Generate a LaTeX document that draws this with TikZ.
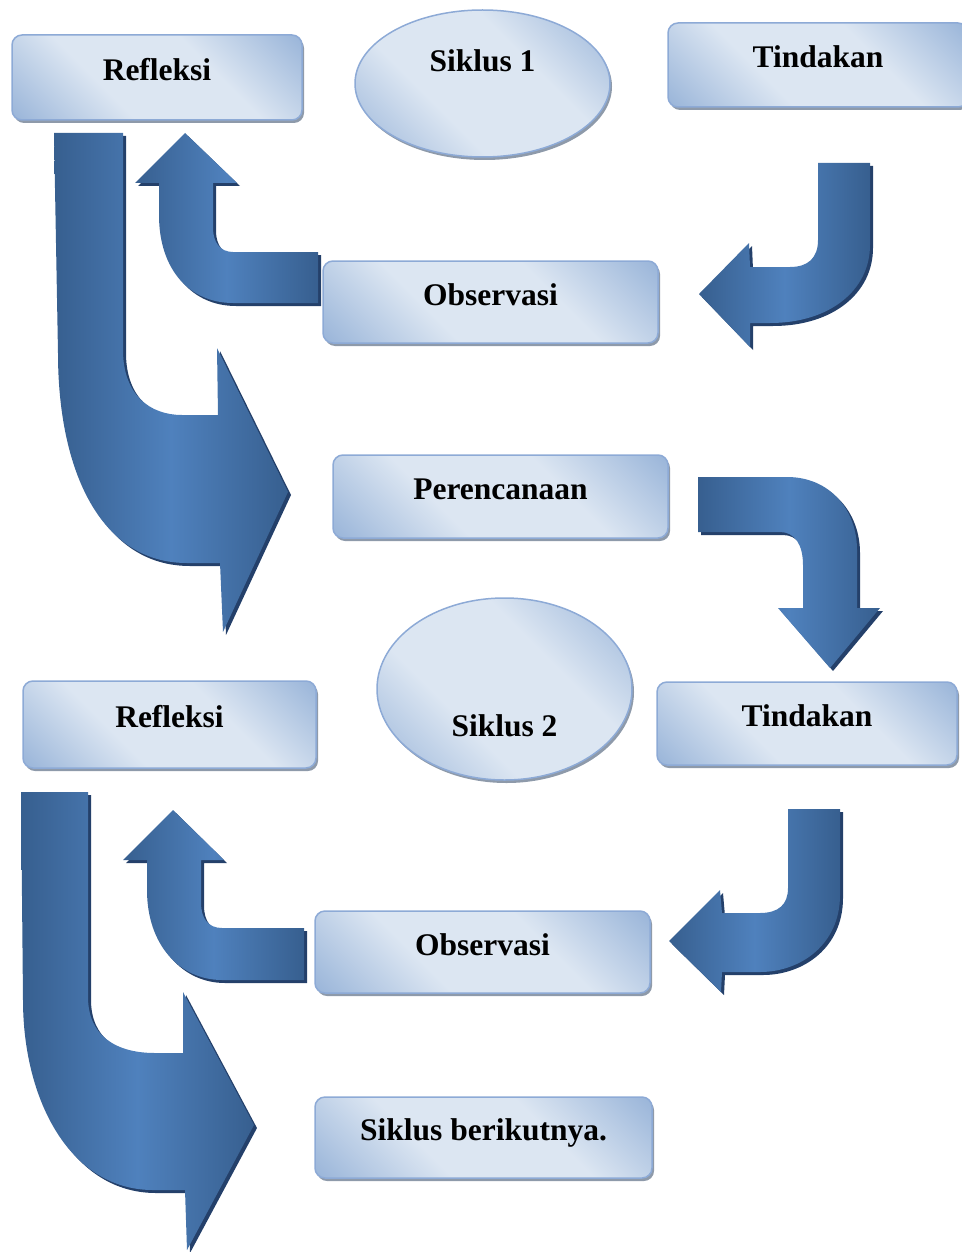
\documentclass[tikz,border=0pt]{standalone}
\usepackage{fontspec}
\setmainfont{Liberation Serif}
\usetikzlibrary{shapes.geometric,shadows}
\definecolor{boxlight}{HTML}{DCE6F2}
\definecolor{boxdark}{HTML}{97B3D8}
\definecolor{boxline}{HTML}{8DAAD6}
\definecolor{boxshadow}{HTML}{8E9AAA}
\definecolor{arrowlight}{HTML}{4F81BD}
\definecolor{arrowdark}{HTML}{375F8F}
\definecolor{arrowshadow}{HTML}{24406A}
\pgfdeclareverticalshading{boxshade}{100bp}{color(0bp)=(boxdark); color(14bp)=(boxdark);
  color(38bp)=(boxlight); color(62bp)=(boxlight); color(86bp)=(boxdark); color(100bp)=(boxdark)}
\tikzstyle{box}=[rectangle,rounded corners=10pt,draw=boxline,line width=1.5pt,
  shading=boxshade,shading angle=-45,
  drop shadow={shadow xshift=2pt,shadow yshift=-3pt,fill=boxshadow,opacity=1},
  font=\fontsize{31.5}{36}\selectfont\bfseries,text height=22pt,text depth=16pt]
\tikzstyle{oval}=[box,ellipse,minimum width=255pt]
\tikzstyle{blockarrow}=[left color=arrowdark,right color=arrowdark,middle color=arrowlight,
  drop shadow={shadow xshift=3pt,shadow yshift=-3pt,fill=arrowshadow,opacity=1}]
\begin{document}
\begin{tikzpicture}[x=1pt,y=-1pt]
    \useasboundingbox (0,0) rectangle (961,1252);
    % siklus 1
    \node[box,minimum width=290pt,minimum height=85pt](refl1) at (157,77.5) {Refleksi};
    \node[oval,minimum height=147pt,text depth=46pt](sik1) at (482.5,83.5) {Siklus 1};
    \node[box,minimum width=300pt,minimum height=84pt](tind1) at (818,65) {Tindakan};
    \node[box,minimum width=335pt,minimum height=82pt](obs1) at (490.5,302) {Observasi};
    \node[box,minimum width=335pt,minimum height=83pt](ren) at (500.5,496.5) {Perencanaan};
    % siklus 2
    \node[box,minimum width=293pt,minimum height=87pt](refl2) at (169.5,724.5) {Refleksi};
    \node[oval,minimum height=182pt,text height=94pt,text depth=0pt](sik2) at (504.5,689) {Siklus 2};
    \node[box,minimum width=300pt,minimum height=83pt](tind2) at (807,723.5) {Tindakan};
    \node[box,minimum width=335pt,minimum height=82pt](obs2) at (482.5,952) {Observasi};
    \node[box,minimum width=337pt,minimum height=81pt](next) at (483.5,1137.5) {Siklus berikutnya.};
    % arrows
    \path[blockarrow] (818,163) -- (870,163) -- (870,245) .. controls (870,290) and (830,323) .. (770,323)
        -- (750,323) -- (750,347) -- (699,294) -- (749,243) -- (750,267) -- (790,267)
        .. controls (808,267) and (818,258) .. (818,240) -- cycle;
    \path[blockarrow] (318,252) -- (233,252) .. controls (220,252) and (213,242) .. (213,228)
        -- (213,183) -- (237,183) -- (185,133) -- (135,183) -- (159,183) -- (159,215)
        .. controls (159,270) and (190,303) .. (233,303) -- (318,303) -- cycle;
    \path[blockarrow] (54,133) -- (123,133) -- (123,350) .. controls (123,395) and (150,415) .. (182,415)
        -- (218,415) -- (217,348) -- (288,492) -- (223,632) -- (220,563) -- (187,563)
        .. controls (100,563) and (58,470) .. (58,353) -- cycle;
    \path[blockarrow] (698,477) -- (787,477) .. controls (830,477) and (857,510) .. (857,550)
        -- (857,608) -- (880,608) -- (830,668) -- (778,608) -- (803,608) -- (803,565)
        .. controls (803,545) and (795,532) .. (780,532) -- (698,532) -- cycle;
    \path[blockarrow] (788,809) -- (840,809) -- (840,895) .. controls (840,945) and (800,972) .. (760,972)
        -- (722,972) -- (721,992) -- (669,941) -- (720,890) -- (722,913) -- (760,913)
        .. controls (778,913) and (788,905) .. (788,888) -- cycle;
    \path[blockarrow] (304,928) -- (222,928) .. controls (208,928) and (201,918) .. (201,903)
        -- (201,860) -- (224,860) -- (173,810) -- (123,860) -- (147,860) -- (147,890)
        .. controls (147,945) and (180,980) .. (222,980) -- (304,980) -- cycle;
    \path[blockarrow] (21,792) -- (88,792) -- (88,997) .. controls (88,1035) and (115,1053) .. (155,1053)
        -- (183,1053) -- (183,992) -- (254,1125) -- (187,1250) -- (185,1190) -- (153,1190)
        .. controls (70,1190) and (23,1100) .. (23,1000) -- cycle;
\end{tikzpicture}
\end{document}
